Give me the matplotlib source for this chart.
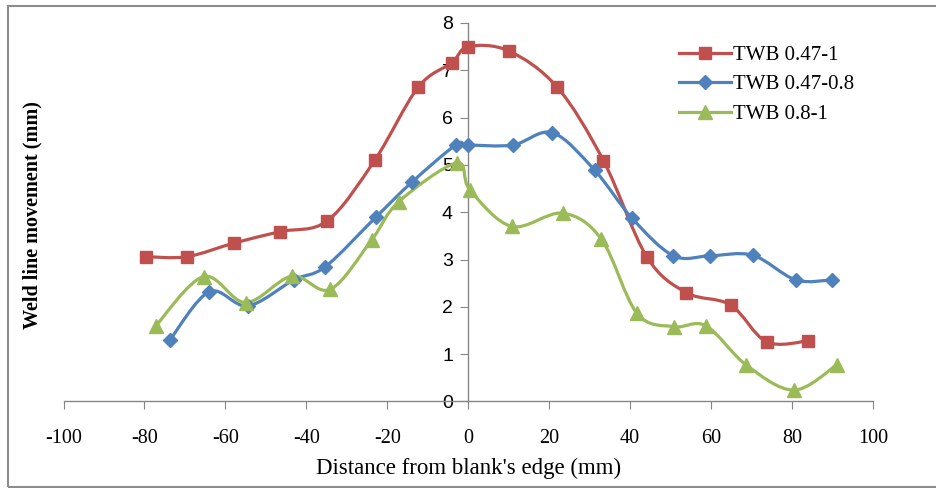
import matplotlib
matplotlib.use('Agg')
import matplotlib.pyplot as plt
from matplotlib.path import Path
from matplotlib.patches import PathPatch, Rectangle
from matplotlib.lines import Line2D
import numpy as np

plt.rcParams['axes.unicode_minus'] = False

# data
x_047_1 = [-79.5, -69.5, -57.8, -46.5, -34.8, -23.1, -12.4, -4.1, 0, 10, 22, 33.4, 44.1, 53.9, 64.8, 73.7, 84]
y_047_1 = [3.06, 3.06, 3.35, 3.59, 3.82, 5.10, 6.64, 7.16, 7.50, 7.41, 6.64, 5.09, 3.06, 2.30, 2.04, 1.26, 1.28]

x_047_08 = [-73.8, -64.0, -54.5, -43.1, -35.3, -22.9, -14.0, -3.1, 0, 11.0, 20.8, 31.2, 40.5, 50.7, 59.8, 70.3, 80.9, 89.9]
y_047_08 = [1.29, 2.32, 2.02, 2.57, 2.85, 3.89, 4.63, 5.42, 5.42, 5.42, 5.68, 4.89, 3.87, 3.08, 3.08, 3.09, 2.57, 2.57]

x_08_1 = [-77.2, -65.4, -55.0, -43.6, -34.1, -23.9, -17.2, -2.9, 0.4, 10.7, 23.3, 32.9, 41.7, 50.8, 58.7, 68.7, 80.4, 91.0]
y_08_1 = [1.60, 2.64, 2.09, 2.65, 2.37, 3.41, 4.22, 5.04, 4.47, 3.70, 3.98, 3.43, 1.86, 1.58, 1.60, 0.77, 0.24, 0.77]

labels = ['TWB 0.47-1', 'TWB 0.47-0.8', 'TWB 0.8-1']
colors = ['#C0504D', '#4F81BD', '#9BBB59']
markers = ['s', 'D', '^']
msizes = [8.5, 7, 9.5]


def smooth_path(xs, ys):
    # Excel-style smoothed line: cubic Bezier through the points
    pts = np.column_stack([xs, ys])
    n = len(pts)
    verts = [pts[0]]
    codes = [Path.MOVETO]
    for i in range(n - 1):
        p_prev = pts[i - 1] if i > 0 else pts[i]
        p_next2 = pts[i + 2] if i + 2 < n else pts[i + 1]
        c1 = pts[i] + (pts[i + 1] - p_prev) / 6
        c2 = pts[i + 1] - (p_next2 - pts[i]) / 6
        verts += [c1, c2, pts[i + 1]]
        codes += [Path.CURVE4] * 3
    return Path(verts, codes)


fig = plt.figure(figsize=(9.37, 4.88), dpi=100)
ax = fig.add_axes([0.0678, 0.1773, 0.8639, 0.7756])

series = [(x_047_1, y_047_1), (x_047_08, y_047_08), (x_08_1, y_08_1)]
for (xs, ys), c, m, ms in zip(series, colors, markers, msizes):
    ax.add_patch(PathPatch(smooth_path(xs, ys), facecolor='none',
                           edgecolor=c, lw=2.3, zorder=3))
    ax.plot(xs, ys, linestyle='none', marker=m, ms=ms, color=c, zorder=4)

ax.set_xlim(-100, 100)
ax.set_ylim(0, 8)
ax.set_xticks(range(-100, 101, 20))
ax.set_yticks(range(0, 9))

for s in ['top', 'right']:
    ax.spines[s].set_visible(False)
ax.spines['left'].set_position(('data', 0))
for s in ['left', 'bottom']:
    ax.spines[s].set_color('#868686')
    ax.spines[s].set_linewidth(1)

ax.tick_params(axis='x', direction='out', length=6, color='#868686',
               pad=14, labelsize=14.5)
ax.tick_params(axis='y', direction='out', length=6, color='#868686',
               pad=5, labelsize=14)
for lb in ax.get_xticklabels():
    lb.set_family('Liberation Serif')
for lb in ax.get_yticklabels():
    lb.set_family('Liberation Sans')

ax.set_xlabel("Distance from blank's edge (mm)", family='Liberation Serif',
              fontsize=16.5, labelpad=7)
fig.text(0.035, 0.56, 'Weld line movement (mm)', family='Liberation Serif',
         fontsize=14.5, fontweight='bold', rotation=90, ha='center', va='center')

handles = [Line2D([], [], color=c, lw=2.3, marker=m, ms=ms)
           for c, m, ms in zip(colors, markers, msizes)]
ax.legend(handles, labels, loc='upper left', bbox_to_anchor=(0.737, 0.99),
          frameon=False, prop={'family': 'Liberation Serif', 'size': 15},
          handlelength=2.5, handletextpad=0.1, labelspacing=0.47)

fig.add_artist(Rectangle((0.0085, 0.002), 1.2, 0.9857, transform=fig.transFigure,
                         fill=False, edgecolor='#8c8c8c', lw=1.5))

fig.savefig('out.png', dpi=100)
